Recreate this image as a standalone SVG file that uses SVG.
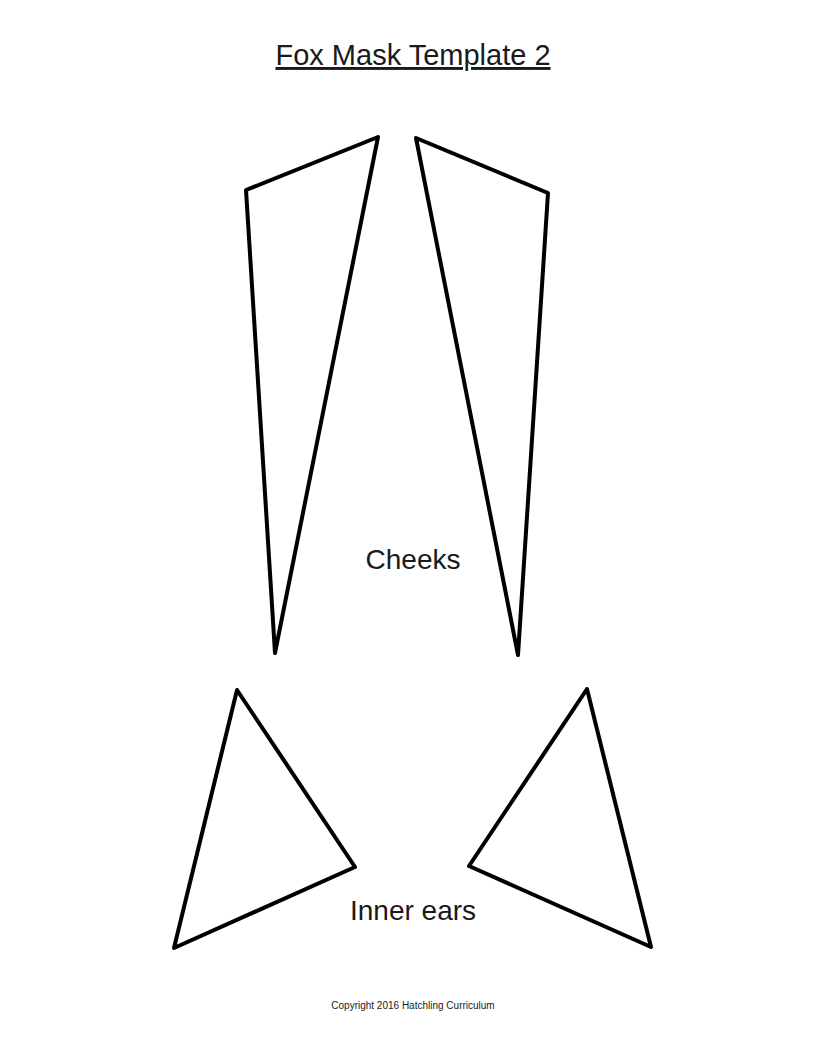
<svg xmlns="http://www.w3.org/2000/svg" width="816" height="1056" viewBox="0 0 816 1056">
<style>
.s{fill:none;stroke:#000;stroke-width:4;stroke-linejoin:round}
.t{font-family:"Liberation Sans",Arial,sans-serif;fill:#1a1a1a}
</style>
<rect width="816" height="1056" fill="#fff"/>
<text class="t" x="413" y="65" font-size="29" text-anchor="middle" text-decoration="underline">Fox Mask Template 2</text>
<g id="cheek-left"><polygon class="s" points="378,137 246,190 275,653"/></g>
<g id="cheek-right"><polygon class="s" points="416,138 548,193 518,655"/></g>
<g id="ear-left"><polygon class="s" points="237,690 355,867 174,948"/></g>
<g id="ear-right"><polygon class="s" points="587,689 469,866 651,947"/></g>
<text class="t" x="413" y="569" font-size="28" text-anchor="middle">Cheeks</text>
<text class="t" x="413" y="920" font-size="28" text-anchor="middle">Inner ears</text>
<text class="t" x="413" y="1009" font-size="10" text-anchor="middle">Copyright 2016 Hatchling Curriculum</text>
</svg>
